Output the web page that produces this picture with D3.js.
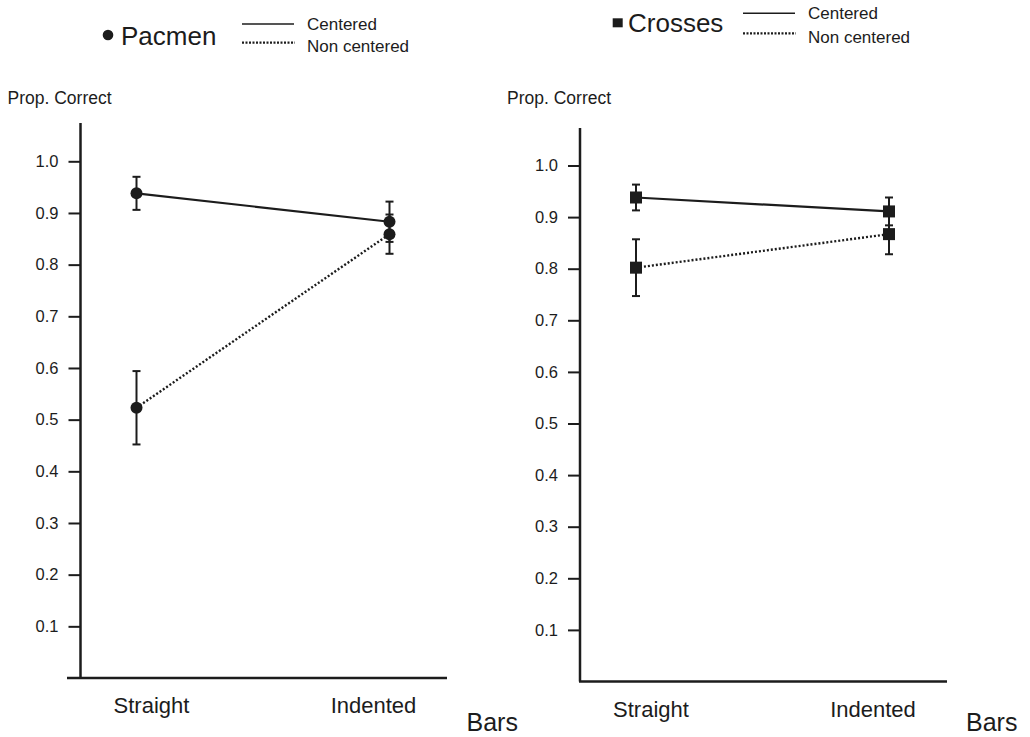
<!DOCTYPE html>
<html>
<head>
<meta charset="utf-8">
<script src="https://cdn.jsdelivr.net/npm/d3@7"></script>
<style>
  body { margin: 0; background: #fff; }
  svg { display: block; font-family: "Liberation Sans", Arial, Helvetica, sans-serif; }
</style>
</head>
<body>
<svg id="chart" width="1030" height="737"></svg>
<script>
// data
const categories = ['Straight', 'Indented']
const yTicks = [0.1, 0.2, 0.3, 0.4, 0.5, 0.6, 0.7, 0.8, 0.9, 1.0]

const pacmenCentered = [0.938, 0.883]
const pacmenCenteredErr = [0.032, 0.039]
const pacmenNonCentered = [0.523, 0.859]
const pacmenNonCenteredErr = [0.071, 0.038]

const crossesCentered = [0.938, 0.911]
const crossesCenteredErr = [0.025, 0.027]
const crossesNonCentered = [0.802, 0.867]
const crossesNonCenteredErr = [0.055, 0.039]

const ink = '#1c1c1c'
const svg = d3.select('#chart')

function drawPanel(opts) {
  const g = svg.append('g')
  const y = d3.scaleLinear().domain([0, 1]).range([opts.zeroY, opts.oneY])
  const x = d3.scalePoint().domain(categories).range([opts.axisX + 56, opts.axisX + 309])
  const xLabel = d3.scalePoint().domain(categories).range([opts.axisX + 71, opts.axisX + 293])

  // y axis
  const yAxis = g.append('g')
    .attr('transform', `translate(${opts.axisX}, 0)`)
    .call(d3.axisLeft(y).tickValues(yTicks).tickSize(12).tickPadding(10).tickFormat(d3.format('.1f')))
  yAxis.select('.domain').remove()
  yAxis.selectAll('.tick line').attr('stroke', ink).attr('stroke-width', 2)
  yAxis.selectAll('.tick text')
    .attr('fill', ink)
    .style('font-size', '16.5px')
    .style('font-family', '"Liberation Sans", Arial, sans-serif')

  g.append('line')
    .attr('x1', opts.axisX).attr('x2', opts.axisX)
    .attr('y1', opts.topY).attr('y2', y(0))
    .attr('stroke', ink).attr('stroke-width', 2.5)
  g.append('line')
    .attr('x1', opts.xAxisStart).attr('x2', opts.xAxisEnd)
    .attr('y1', y(0)).attr('y2', y(0))
    .attr('stroke', ink).attr('stroke-width', 2.5)

  g.append('text')
    .attr('x', opts.axisX - 73).attr('y', 104)
    .style('font-size', '17.5px').attr('fill', ink)
    .text('Prop. Correct')

  // category labels
  g.selectAll('.cat')
    .data(categories)
    .join('text')
    .attr('class', 'cat')
    .attr('x', (d) => xLabel(d))
    .attr('y', y(0) + 35)
    .attr('text-anchor', 'middle')
    .style('font-size', '22px')
    .attr('fill', ink)
    .text((d) => d)

  g.append('text')
    .attr('x', opts.axisX + 386).attr('y', opts.barsY)
    .style('font-size', '25px').attr('fill', ink)
    .text('Bars')

  const series = [
    { values: opts.centered, err: opts.centeredErr, dash: null },
    { values: opts.nonCentered, err: opts.nonCenteredErr, dash: '2,2' },
  ]

  const line = d3.line().x((d, i) => x(categories[i])).y((d) => y(d))

  g.selectAll('.series')
    .data(series)
    .join('path')
    .attr('class', 'series')
    .attr('d', (s) => line(s.values))
    .attr('fill', 'none')
    .attr('stroke', ink)
    .attr('stroke-width', (s) => (s.dash ? 2.4 : 2.2))
    .attr('stroke-dasharray', (s) => s.dash)

  const points = series.flatMap((s) =>
    s.values.map((v, i) => ({ cat: categories[i], v, e: s.err[i] }))
  )

  const bars = g.selectAll('.err').data(points).join('g').attr('class', 'err')
  bars.append('line')
    .attr('x1', (d) => x(d.cat)).attr('x2', (d) => x(d.cat))
    .attr('y1', (d) => y(d.v + d.e)).attr('y2', (d) => y(d.v - d.e))
    .attr('stroke', ink).attr('stroke-width', 2)
  bars.selectAll('.cap')
    .data((d) => [d.v + d.e, d.v - d.e].map((yy) => ({ cat: d.cat, yy })))
    .join('line')
    .attr('class', 'cap')
    .attr('x1', (d) => x(d.cat) - 4).attr('x2', (d) => x(d.cat) + 4)
    .attr('y1', (d) => y(d.yy)).attr('y2', (d) => y(d.yy))
    .attr('stroke', ink).attr('stroke-width', 2)

  if (opts.marker === 'circle') {
    g.selectAll('.pt').data(points).join('circle')
      .attr('class', 'pt')
      .attr('cx', (d) => x(d.cat)).attr('cy', (d) => y(d.v))
      .attr('r', 6).attr('fill', ink)
  } else {
    g.selectAll('.pt').data(points).join('rect')
      .attr('class', 'pt')
      .attr('x', (d) => x(d.cat) - 6).attr('y', (d) => y(d.v) - 6)
      .attr('width', 12).attr('height', 12).attr('fill', ink)
  }
}

function drawLegend(opts) {
  const g = svg.append('g')
  if (opts.marker === 'circle') {
    g.append('circle').attr('cx', opts.mx).attr('cy', opts.my).attr('r', 5.3).attr('fill', ink)
  } else {
    g.append('rect').attr('x', opts.mx - 5).attr('y', opts.my - 4.5).attr('width', 10).attr('height', 9).attr('fill', ink)
  }
  g.append('text')
    .attr('x', opts.tx).attr('y', opts.ty)
    .style('font-size', '26px').attr('fill', ink)
    .text(opts.title)
  g.append('line')
    .attr('x1', opts.lx).attr('x2', opts.lx + 52)
    .attr('y1', opts.ly1).attr('y2', opts.ly1)
    .attr('stroke', ink).attr('stroke-width', 1.6)
  g.append('line')
    .attr('x1', opts.lx).attr('x2', opts.lx + 53)
    .attr('y1', opts.ly2).attr('y2', opts.ly2)
    .attr('stroke', ink).attr('stroke-width', 2.2).attr('stroke-dasharray', '2,1.5')
  g.append('text')
    .attr('x', opts.lx + 65).attr('y', opts.ly1 + 5.5)
    .style('font-size', '17px').attr('fill', ink)
    .text('Centered')
  g.append('text')
    .attr('x', opts.lx + 65).attr('y', opts.ly2 + 9.5)
    .style('font-size', '17px').attr('fill', ink)
    .text('Non centered')
}

drawPanel({
  axisX: 80.5, zeroY: 678, oneY: 161.3, topY: 123,
  xAxisStart: 67, xAxisEnd: 447, barsY: 731,
  centered: pacmenCentered, centeredErr: pacmenCenteredErr,
  nonCentered: pacmenNonCentered, nonCenteredErr: pacmenNonCenteredErr,
  marker: 'circle',
})

drawPanel({
  axisX: 580, zeroY: 681.5, oneY: 165.5, topY: 128,
  xAxisStart: 579, xAxisEnd: 947, barsY: 731,
  centered: crossesCentered, centeredErr: crossesCenteredErr,
  nonCentered: crossesNonCentered, nonCenteredErr: crossesNonCenteredErr,
  marker: 'square',
})

drawLegend({ marker: 'circle', mx: 108, my: 35, tx: 121, ty: 45, title: 'Pacmen', lx: 242, ly1: 24, ly2: 42.7 })
drawLegend({ marker: 'square', mx: 617.7, my: 22.8, tx: 628, ty: 31.7, title: 'Crosses', lx: 743, ly1: 13.3, ly2: 33.3 })
</script>
</body>
</html>
